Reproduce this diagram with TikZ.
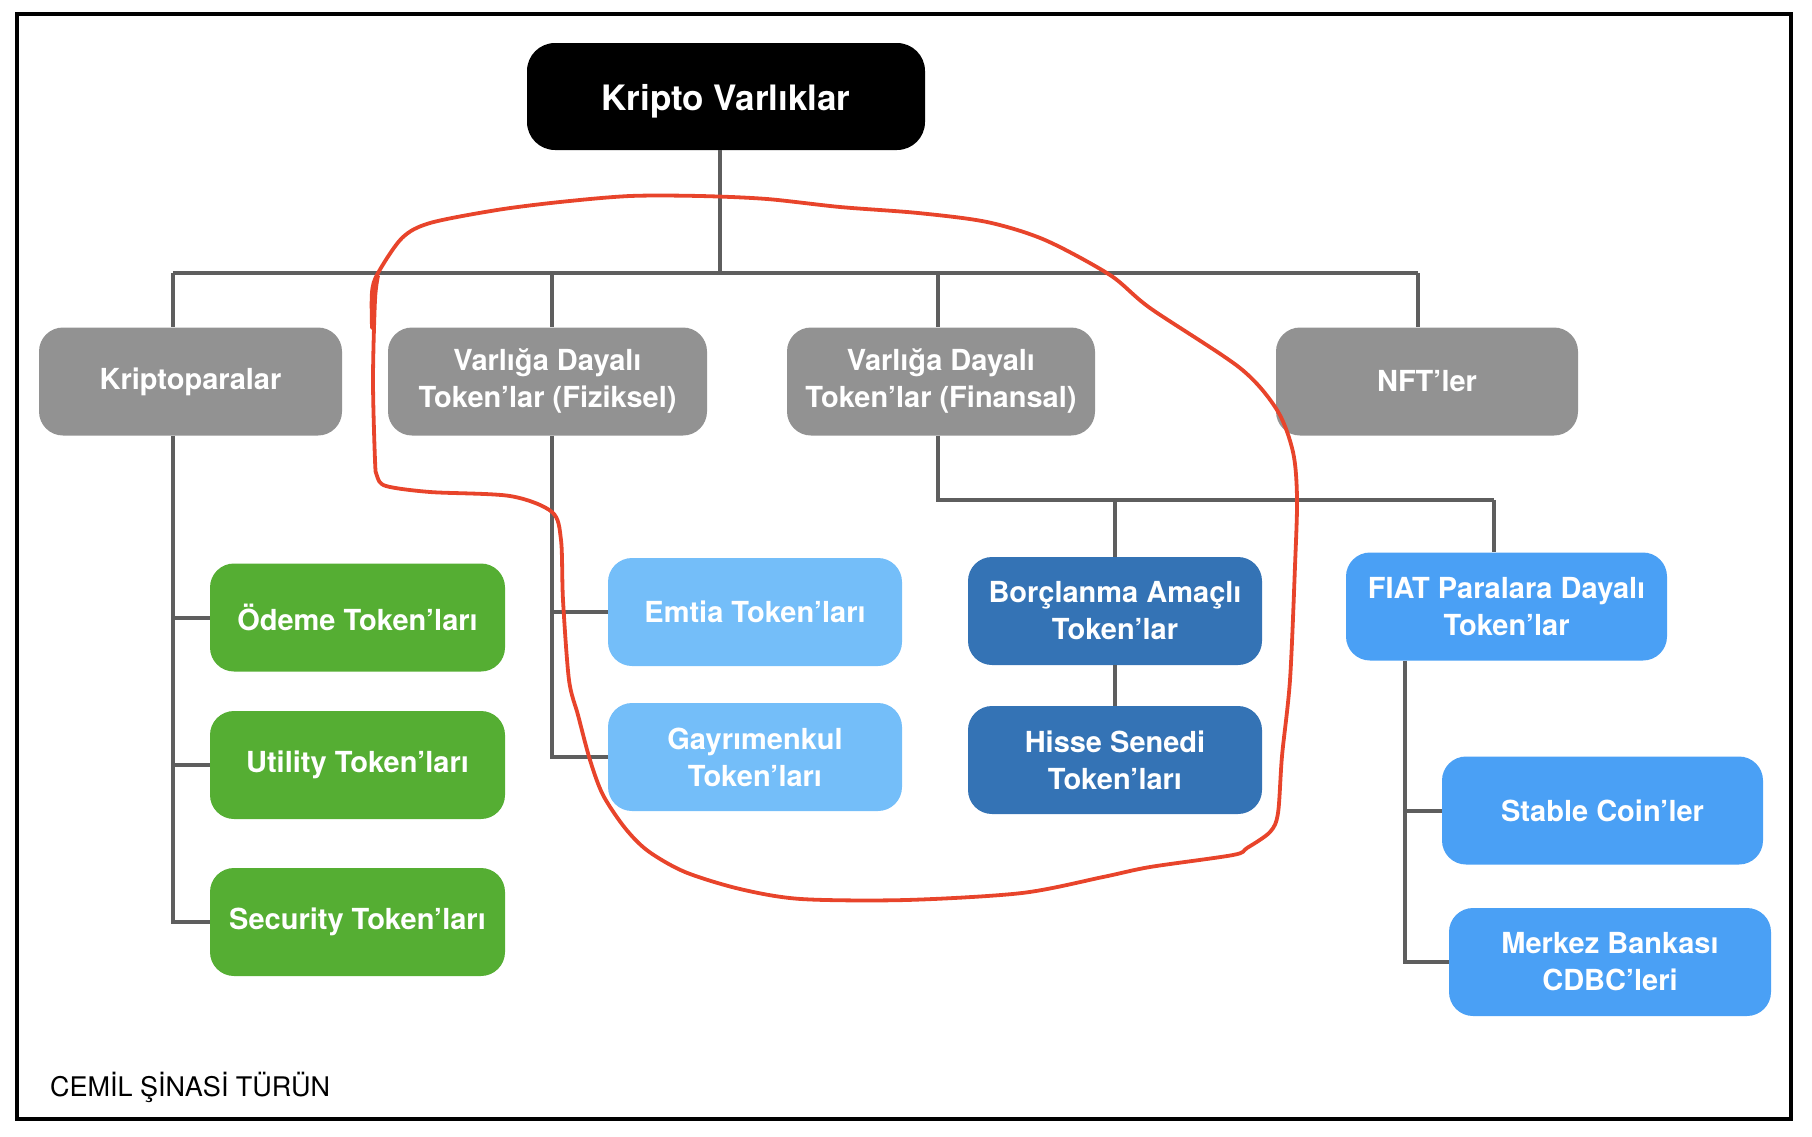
\documentclass[tikz,border=0pt]{standalone}
\usepackage{fontspec}
\setmainfont{TeX Gyre Heros}
\usetikzlibrary{positioning}
\definecolor{cRoot}{HTML}{000000}
\definecolor{cGray}{HTML}{929292}
\definecolor{cGreen}{HTML}{55AE33}
\definecolor{cSky}{HTML}{74BEF9}
\definecolor{cNavy}{HTML}{3473B5}
\definecolor{cBlue}{HTML}{4AA0F5}
\definecolor{cLine}{HTML}{5E5E5E}
\definecolor{cMark}{HTML}{E8442B}

\begin{document}
\begin{tikzpicture}[x=1pt, y=-1pt,
  box/.style={rectangle, rounded corners=24pt, inner sep=0pt, minimum height=108pt,
    align=center, text=white, font=\fontsize{29}{37}\selectfont\bfseries},
  lvl/.style={box, fill=cGray},
  grn/.style={box, fill=cGreen, minimum width=295pt},
  sky/.style={box, fill=cSky, minimum width=294pt},
  navy/.style={box, fill=cNavy, minimum width=294pt},
  blu/.style={box, fill=cBlue, minimum width=321pt},
  ln/.style={cLine, line width=4pt},
  bus/.style={cLine, line width=4.7pt},
  redline/.style={cMark, line width=3.8pt, line cap=round, line join=round},
]
  \useasboundingbox (0,0) rectangle (1812,1136);
  \draw[line width=3.5pt] (17,14) rectangle (1791,1119);
  % root
  \node[box, fill=cRoot, minimum width=398pt, minimum height=107pt, rounded corners=28pt,
    text height=27pt, text depth=0pt,
    font=\fontsize{35}{42}\selectfont\bfseries] (root) at (726,96.5) {Kripto Varlıklar};
  % ---- level 1 ----
  \node[lvl, minimum width=303pt] (kripto)   at (190.5,381.5) {Kriptoparalar};
  \node[lvl, minimum width=319pt] (fiziksel) at (547.5,381.5) {Varlığa Dayalı\\Token’lar (Fiziksel)};
  \node[lvl, minimum width=308pt] (finansal) at (941,381.5) {Varlığa Dayalı\\Token’lar (Finansal)};
  \node[lvl, minimum width=302pt] (nft)      at (1427,381.5) {NFT’ler};
  % ---- level 2 ----
  \node[grn] (odeme)    at (357.5,617.5) {Ödeme Token’ları};
  \node[grn] (utility)  at (357.5,765)   {Utility Token’ları};
  \node[grn] (security) at (357.5,922)   {Security Token’ları};
  \node[sky] (emtia) at (755,612) {Emtia Token’ları};
  \node[sky] (gayri) at (755,757) {Gayrımenkul\\Token’ları};
  \node[navy] (borc)  at (1115,611) {Borçlanma Amaçlı\\Token’lar};
  \node[navy] (hisse) at (1115,760) {Hisse Senedi\\Token’ları};
  \node[blu] (fiat)   at (1506.5,606.5) {FIAT Paralara Dayalı\\Token’lar};
  \node[blu] (stable) at (1602.5,810.5) {Stable Coin’ler};
  \node[blu, minimum width=322pt] (merkez) at (1610,962) {Merkez Bankası\\CDBC’leri};
  % footer
  \node[anchor=west, inner sep=0pt, font=\fontsize{27}{32}\selectfont] (sign) at (50,1087) {CEMİL ŞİNASİ TÜRÜN};
  % ---- tree lines ----
  \coordinate (top) at (720,273);
  \coordinate (dK) at (173,273);
  \coordinate (dF) at (552,273);
  \coordinate (dN) at (938,273);
  \coordinate (dT) at (1418,273);
  \coordinate (fork) at (938,500);
  \coordinate (dFi) at (1494,500);
  \coordinate (dS) at (1405,500);
  \draw[ln] (root.south -| top) -- (top);
  \draw[bus] (dK) -- (dT);
  \foreach \d/\n in {dK/kripto, dF/fiziksel, dN/finansal, dT/nft}
    \draw[ln] (\d) -- (\d |- \n.north);
  % Kriptoparalar
  \draw[ln] (dK |- kripto.south) |- (security.west);
  \foreach \n in {odeme, utility}
    \draw[ln] (dK |- \n.west) -- (\n.west);
  % Fiziksel
  \draw[ln] (dF |- fiziksel.south) |- (gayri.west);
  \draw[ln] (dF |- emtia.west) -- (emtia.west);
  % Finansal
  \draw[ln] (dN |- finansal.south) -- (fork) -- (dFi);
  \draw[ln] (borc.north |- fork) -- (borc.north);
  \draw[ln] (dFi) -- (dFi |- fiat.north);
  \draw[ln] (borc) -- (hisse);
  % FIAT
  \draw[ln] (dS |- fiat.south) |- (merkez.west);
  \draw[ln] (dS |- stable.west) -- (stable.west);
  % ---- red hand mark ----
  \draw[redline] plot[smooth, tension=0.5] coordinates {
    (372,328) (372,292) (378,273) (402,238) (430,223) (497,210) (560,202)
    (630,196) (700,196) (767,199) (840,207) (918,213) (987,222) (1045,240) (1110,275)
    (1150,308) (1240,368) (1277,410) (1293,452) (1297,498) (1295,566) (1290,680)
    (1282,756) (1278,813) (1270,832) (1247,848) (1233,855) (1150,867) (1103,877)
    (1022,893) (906,900) (801,899) (740,889) (685,872) (648,851) (625,828) (603,795)
    (590,760) (578,715) (569,680) (563,600) (561,540) (552,512) (510,496) (430,492)
    (386,486) (377,476) (375,460) (373,380) (375,300) (378,276)};
\end{tikzpicture}
\end{document}
